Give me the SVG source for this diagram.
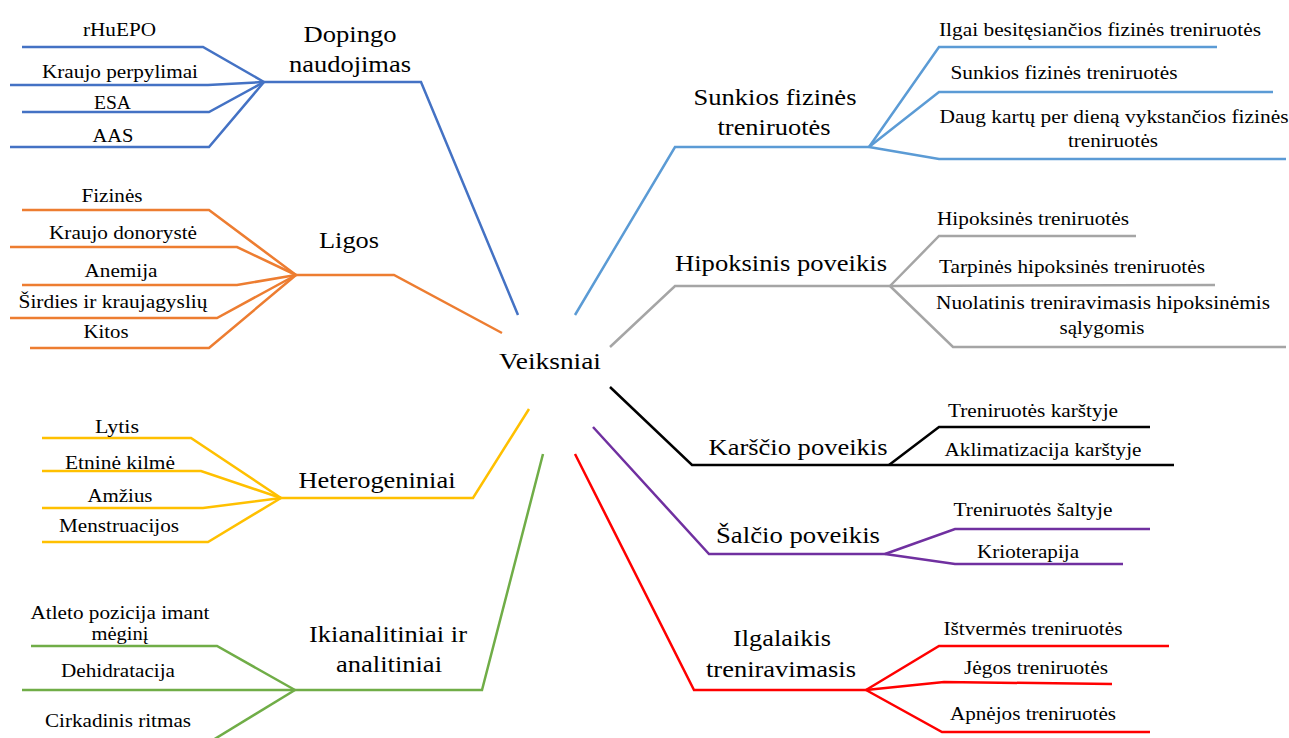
<svg xmlns="http://www.w3.org/2000/svg" width="1289" height="738" viewBox="0 0 1289 738">
  <style>
    .s { font-family: "Liberation Serif", serif; font-size: 18.5px; }
    .b { font-family: "Liberation Serif", serif; font-size: 23px; }
    .ln { fill: none; stroke-width: 2.5; stroke-linejoin: miter; stroke-linecap: butt; }
    .dop { stroke: #4472C4; }
    .lig { stroke: #ED7D31; }
    .het { stroke: #FFC000; }
    .ika { stroke: #70AD47; }
    .sun { stroke: #5B9BD5; }
    .hip { stroke: #A5A5A5; }
    .kar { stroke: #000000; }
    .sal { stroke: #7030A0; }
    .ilg { stroke: #FF0000; }
  </style>
  <rect width="1289" height="738" fill="#ffffff"/>

  <g id="connectors">
    <!-- Dopingo naudojimas -->
    <polyline class="ln dop" points="518,315 421,82 264,82"/>
    <polyline class="ln dop" points="22,47 203,47 264,82"/>
    <polyline class="ln dop" points="10,85 208,85 264,82"/>
    <polyline class="ln dop" points="22,112 209,112 264,82"/>
    <polyline class="ln dop" points="10,147 209,147 264,82"/>
    <!-- Ligos -->
    <polyline class="ln lig" points="502,333 394,275 296,275"/>
    <polyline class="ln lig" points="22,210 209,210 296,275"/>
    <polyline class="ln lig" points="10,247 237,247 296,275"/>
    <polyline class="ln lig" points="22,285 237,285 296,275"/>
    <polyline class="ln lig" points="10,318 217,318 296,275"/>
    <polyline class="ln lig" points="30,348 209,348 296,275"/>
    <!-- Heterogeniniai -->
    <polyline class="ln het" points="529,409 473,498 281,498"/>
    <polyline class="ln het" points="42,438 191,438 281,498"/>
    <polyline class="ln het" points="42,471 201,471 281,498"/>
    <polyline class="ln het" points="42,508 203,508 281,498"/>
    <polyline class="ln het" points="42,542 208,542 281,498"/>
    <!-- Ikianalitiniai ir analitiniai -->
    <polyline class="ln ika" points="543,454 482,690 295,690"/>
    <polyline class="ln ika" points="31,646 217,646 295,690"/>
    <polyline class="ln ika" points="22,690 295,690"/>
    <polyline class="ln ika" points="295,690 213,740"/>
    <!-- Sunkios fizinės treniruotės -->
    <polyline class="ln sun" points="575,315 675,147 869,147"/>
    <polyline class="ln sun" points="869,147 939,47 1217,47"/>
    <polyline class="ln sun" points="869,147 939,92 1273,92"/>
    <polyline class="ln sun" points="869,147 939,159 1286,159"/>
    <!-- Hipoksinis poveikis -->
    <polyline class="ln hip" points="610,347 675,286 890,286"/>
    <polyline class="ln hip" points="890,286 939,236 1136,236"/>
    <polyline class="ln hip" points="890,286 1215,285"/>
    <polyline class="ln hip" points="890,286 953,347 1286,347"/>
    <!-- Karščio poveikis -->
    <polyline class="ln kar" points="610,387 692,465 889,465"/>
    <polyline class="ln kar" points="889,465 939,427 1150,427"/>
    <polyline class="ln kar" points="889,465 1174,465"/>
    <!-- Šalčio poveikis -->
    <polyline class="ln sal" points="593,427 709,554 885,554"/>
    <polyline class="ln sal" points="885,554 955,529 1150,529"/>
    <polyline class="ln sal" points="885,554 955,564 1123,564"/>
    <!-- Ilgalaikis treniravimasis -->
    <polyline class="ln ilg" points="575,454 694,690 866,690"/>
    <polyline class="ln ilg" points="866,690 939,646 1169,646"/>
    <polyline class="ln ilg" points="866,690 944,682 1112,684"/>
    <polyline class="ln ilg" points="866,690 942,732 1150,732"/>
  </g>

  <g font-family="Liberation Serif" text-anchor="middle" fill="#000000">
  <g id="veiksniai">
    <text class="b" x="550" y="369" textLength="102" lengthAdjust="spacingAndGlyphs">Veiksniai</text>
  </g>

  <g id="dopingo">
    <text class="b" x="350" y="42" textLength="93" lengthAdjust="spacingAndGlyphs">Dopingo</text>
    <text class="b" x="350" y="72" textLength="122" lengthAdjust="spacingAndGlyphs">naudojimas</text>
  </g>
  <g id="dopingo-items">
    <text class="s" x="119.5" y="36" textLength="73" lengthAdjust="spacingAndGlyphs">rHuEPO</text>
    <text class="s" x="120" y="78" textLength="156" lengthAdjust="spacingAndGlyphs">Kraujo perpylimai</text>
    <text class="s" x="112.5" y="109" textLength="37" lengthAdjust="spacingAndGlyphs">ESA</text>
    <text class="s" x="113" y="142" textLength="41" lengthAdjust="spacingAndGlyphs">AAS</text>
  </g>

  <g id="ligos">
    <text class="b" x="349" y="248" textLength="60" lengthAdjust="spacingAndGlyphs">Ligos</text>
  </g>
  <g id="ligos-items">
    <text class="s" x="112" y="202" textLength="61" lengthAdjust="spacingAndGlyphs">Fizinės</text>
    <text class="s" x="123" y="239" textLength="148" lengthAdjust="spacingAndGlyphs">Kraujo donorystė</text>
    <text class="s" x="121" y="277" textLength="73" lengthAdjust="spacingAndGlyphs">Anemija</text>
    <text class="s" x="113" y="308" textLength="189" lengthAdjust="spacingAndGlyphs">Širdies ir kraujagyslių</text>
    <text class="s" x="106" y="338" textLength="45" lengthAdjust="spacingAndGlyphs">Kitos</text>
  </g>

  <g id="heterogeniniai">
    <text class="b" x="377" y="488" textLength="157" lengthAdjust="spacingAndGlyphs">Heterogeniniai</text>
  </g>
  <g id="heterogeniniai-items">
    <text class="s" x="117" y="433" textLength="44" lengthAdjust="spacingAndGlyphs">Lytis</text>
    <text class="s" x="120" y="469" textLength="110" lengthAdjust="spacingAndGlyphs">Etninė kilmė</text>
    <text class="s" x="120" y="502" textLength="65" lengthAdjust="spacingAndGlyphs">Amžius</text>
    <text class="s" x="119" y="532" textLength="120" lengthAdjust="spacingAndGlyphs">Menstruacijos</text>
  </g>

  <g id="ikianalitiniai">
    <text class="b" x="388" y="642" textLength="158" lengthAdjust="spacingAndGlyphs">Ikianalitiniai ir</text>
    <text class="b" x="389" y="672" textLength="106" lengthAdjust="spacingAndGlyphs">analitiniai</text>
  </g>
  <g id="ikianalitiniai-items">
    <text class="s" x="120" y="619" textLength="179" lengthAdjust="spacingAndGlyphs">Atleto pozicija imant</text>
    <text class="s" x="120" y="640" textLength="57" lengthAdjust="spacingAndGlyphs">mėginį</text>
    <text class="s" x="118" y="677" textLength="114" lengthAdjust="spacingAndGlyphs">Dehidratacija</text>
    <text class="s" x="118" y="727" textLength="146" lengthAdjust="spacingAndGlyphs">Cirkadinis ritmas</text>
  </g>

  <g id="sunkios">
    <text class="b" x="775" y="105" textLength="163" lengthAdjust="spacingAndGlyphs">Sunkios fizinės</text>
    <text class="b" x="774" y="135" textLength="113" lengthAdjust="spacingAndGlyphs">treniruotės</text>
  </g>
  <g id="sunkios-items">
    <text class="s" x="1100" y="36" textLength="322" lengthAdjust="spacingAndGlyphs">Ilgai besitęsiančios fizinės treniruotės</text>
    <text class="s" x="1064" y="79" textLength="227" lengthAdjust="spacingAndGlyphs">Sunkios fizinės treniruotės</text>
    <text class="s" x="1114" y="123" textLength="349" lengthAdjust="spacingAndGlyphs">Daug kartų per dieną vykstančios fizinės</text>
    <text class="s" x="1113" y="147" textLength="90" lengthAdjust="spacingAndGlyphs">treniruotės</text>
  </g>

  <g id="hipoksinis">
    <text class="b" x="781" y="271" textLength="212" lengthAdjust="spacingAndGlyphs">Hipoksinis poveikis</text>
  </g>
  <g id="hipoksinis-items">
    <text class="s" x="1033" y="225" textLength="192" lengthAdjust="spacingAndGlyphs">Hipoksinės treniruotės</text>
    <text class="s" x="1072" y="273" textLength="266" lengthAdjust="spacingAndGlyphs">Tarpinės hipoksinės treniruotės</text>
    <text class="s" x="1103" y="309" textLength="334" lengthAdjust="spacingAndGlyphs">Nuolatinis treniravimasis hipoksinėmis</text>
    <text class="s" x="1102" y="334" textLength="85" lengthAdjust="spacingAndGlyphs">sąlygomis</text>
  </g>

  <g id="karscio">
    <text class="b" x="798" y="455" textLength="179" lengthAdjust="spacingAndGlyphs">Karščio poveikis</text>
  </g>
  <g id="karscio-items">
    <text class="s" x="1033" y="417" textLength="170" lengthAdjust="spacingAndGlyphs">Treniruotės karštyje</text>
    <text class="s" x="1043" y="456" textLength="197" lengthAdjust="spacingAndGlyphs">Aklimatizacija karštyje</text>
  </g>

  <g id="salcio">
    <text class="b" x="798" y="543" textLength="164" lengthAdjust="spacingAndGlyphs">Šalčio poveikis</text>
  </g>
  <g id="salcio-items">
    <text class="s" x="1033" y="516" textLength="159" lengthAdjust="spacingAndGlyphs">Treniruotės šaltyje</text>
    <text class="s" x="1028" y="558" textLength="102" lengthAdjust="spacingAndGlyphs">Krioterapija</text>
  </g>

  <g id="ilgalaikis">
    <text class="b" x="782" y="646" textLength="98" lengthAdjust="spacingAndGlyphs">Ilgalaikis</text>
    <text class="b" x="781" y="677" textLength="150" lengthAdjust="spacingAndGlyphs">treniravimasis</text>
  </g>
  <g id="ilgalaikis-items">
    <text class="s" x="1033" y="635" textLength="179" lengthAdjust="spacingAndGlyphs">Ištvermės treniruotės</text>
    <text class="s" x="1036" y="674" textLength="144" lengthAdjust="spacingAndGlyphs">Jėgos treniruotės</text>
    <text class="s" x="1033" y="720" textLength="166" lengthAdjust="spacingAndGlyphs">Apnėjos treniruotės</text>
  </g>
  </g>
</svg>
